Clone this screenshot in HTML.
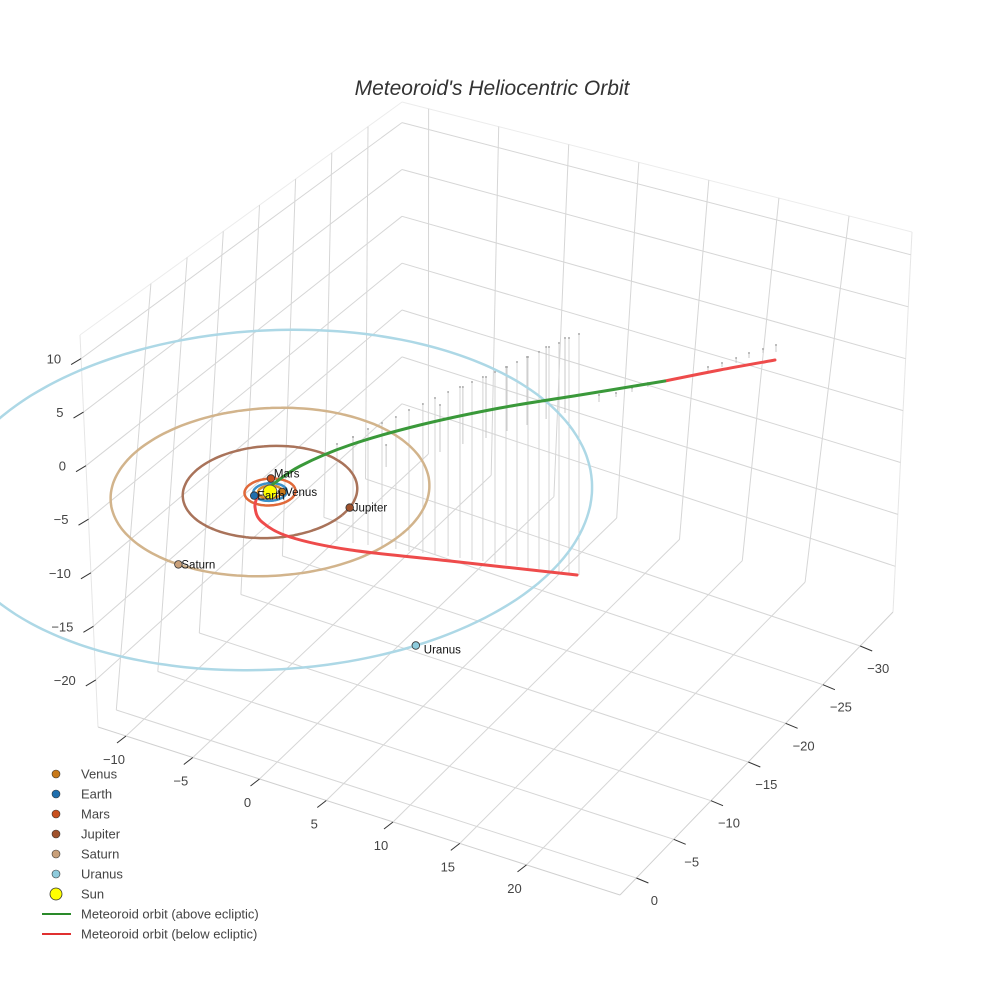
<!DOCTYPE html>
<html><head><meta charset="utf-8"><style>
html,body{margin:0;padding:0;background:#fff;}
svg{display:block;font-family:"Liberation Sans",Arial,sans-serif;}
</style></head><body>
<svg id="chart" width="984" height="984" viewBox="0 0 984 984" xmlns="http://www.w3.org/2000/svg">
<rect x="0" y="0" width="984" height="984" fill="#fff"/>
<text x="492" y="95" text-anchor="middle" font-size="21" font-style="italic" fill="#333">Meteoroid's Heliocentric Orbit</text>
<g id="grid"></g>
<g id="ticks"></g>
<g id="data"></g>
<g id="legend"></g>
</svg>
<script>
// ---- axis tick data ----
const xTicks = [-10, -5, 0, 5, 10, 15, 20];
const yTicks = [0, -5, -10, -15, -20, -25, -30];
const zTicks = [10, 5, 0, -5, -10, -15, -20];
// ---- planets ----
const planetNames = ["Venus", "Earth", "Mars", "Jupiter", "Saturn", "Uranus"];
const planetRadii = [0.72, 1.0, 1.52, 5.2, 9.5, 19.2];
const planetAngles = [-30, 126, 238, -10, 91, 29];
const orbitCenterX = [0, 0, 0, 0, 0, 0.5];
const orbitCenterY = [0, 0, 0, 0, 0, 0.75];
const planetColors = ["#c8791a", "#1f6fae", "#c8501e", "#a0522d", "#c9a07a", "#8ecbdc"];
const orbitColors = ["#d98c2b", "#3b8fc8", "#e0693a", "#a9735a", "#d2b48c", "#add8e6"];
// ---- meteoroid (x, y, z in AU) ----
const aboveX = [-0.34, 0.42, 2.31, 5.44, 9.27, 13.36, 17.64];
const aboveY = [-0.71, -2.57, -5.09, -7.91, -10.75, -13.22, -15.93];
const aboveZ = [0, 0.8, 1.8, 3.0, 4.2, 5.4, 6.6];
const tailX = [17.64, 20.37, 23.1];
const tailY = [-15.93, -17.74, -19.56];
const tailZ = [6.6, 7.5, 8.3];
const belowX = [-0.43, -0.02, 1.04, 3.13, 6.68, 12.19, 19.29];
const belowY = [0.64, 1.57, 2.39, 2.5, 1.37, -1.12, -4.14];
const belowZ = [0, -0.3, -0.7, -1.2, -1.8, -2.4, -3.0];
// ---- long vertical stems (x position, top z, bottom z) ----
const stemX = [4.82, 5.97, 7.05, 8.06, 9.06, 10.0, 11.0, 11.87, 12.81, 13.67, 14.53, 15.32, 16.19, 16.98, 17.77, 18.56, 19.35, 20.07, 20.79, 21.51, 22.23];
const stemTopZ = [6.92, 8.13, 9.4, 10.45, 11.49, 12.6, 13.64, 14.62, 15.64, 16.51, 17.39, 18.24, 19.12, 19.97, 20.82, 21.67, 22.52, 23.33, 24.05, 24.86, 25.58];
const stemBotZ = [-2.78, -2.47, -2.2, -1.95, -1.71, -1.5, -1.26, -1.08, -0.76, -0.59, -0.41, -0.16, 0.02, 0.17, 0.42, 0.57, 0.82, 0.93, 1.15, 1.26, 1.48];
// ---- short projection stems ----
const shortX = [5.97, 8.35, 12.23, 13.88, 15.54, 17.05, 18.49, 19.86, 21.22, 23.67, 24.89, 26.04, 27.19, 31.51, 32.52, 33.53, 34.46, 35.47, 36.4];
const shortTopZ = [8.13, 8.37, 14.08, 16.61, 18.34, 20.0, 21.64, 23.24, 24.74, 20.11, 20.85, 21.86, 22.86, 26.36, 27.21, 28.15, 29.06, 29.91, 30.72];
const shortBotZ = [4.13, 6.17, 9.38, 10.91, 12.24, 13.6, 14.84, 16.04, 17.24, 19.41, 20.45, 21.46, 22.46, 25.86, 26.81, 27.65, 28.56, 29.51, 30.02];

const NS = "http://www.w3.org/2000/svg";
const XR_TOP = [-11.9, 24.5], XR_BOT = [-12.1, 27.0];
const YR_TOP = [9.8, -34.7], YR_BOT = [2.2, -34.4];
const ZMAX = 12.2, ZMIN = -24.4;
const Lt=[80,335],Ft=[578,465],Rt=[912,232],Bt=[402,102];
const Lb=[98,727],Fb=[620,895],Rb=[893,612],Bb=[402,445];
function bil(a,b,c,d,u,v){
  const p=[a[0]+(b[0]-a[0])*u, a[1]+(b[1]-a[1])*u];
  const q=[d[0]+(c[0]-d[0])*u, d[1]+(c[1]-d[1])*u];
  return [p[0]+(q[0]-p[0])*v, p[1]+(q[1]-p[1])*v];
}
function P(x,y,z){
  const w=(ZMAX-z)/(ZMAX-ZMIN);
  const ut=(x-XR_TOP[0])/(XR_TOP[1]-XR_TOP[0]), vt=(YR_TOP[0]-y)/(YR_TOP[0]-YR_TOP[1]);
  const ub=(x-XR_BOT[0])/(XR_BOT[1]-XR_BOT[0]), vb=(YR_BOT[0]-y)/(YR_BOT[0]-YR_BOT[1]);
  const t=bil(Lt,Ft,Rt,Bt,ut,vt), b=bil(Lb,Fb,Rb,Bb,ub,vb);
  return [t[0]+(b[0]-t[0])*w, t[1]+(b[1]-t[1])*w];
}
function edgeZ(a,b,z){ const w=(ZMAX-z)/(ZMAX-ZMIN); return [a[0]+(b[0]-a[0])*w, a[1]+(b[1]-a[1])*w]; }
function D(x,y,z){ return [270 + 13.9*x - 9.4*y, 492 + 4.4*x + 7.7*y - 10*z]; }

function mk(tag, attrs, parent){
  const e=document.createElementNS(NS,tag);
  for(const k in attrs) e.setAttribute(k, attrs[k]);
  parent.appendChild(e); return e;
}
const grid=document.getElementById('grid');
function gl(a,b,name,col){
  const l=mk('line',{x1:a[0].toFixed(1),y1:a[1].toFixed(1),x2:b[0].toFixed(1),y2:b[1].toFixed(1),stroke:col||'#d6d6d6','stroke-width':1},grid);
  
  
}
gl(Lt,Bt,'box-edge','#ececec');
gl(Bt,Rt,'box-edge','#ececec');
gl(Lt,Lb,'box-edge','#e6e6e6');
gl(Rt,Rb,'box-edge','#e6e6e6');
gl(Lb,Fb,'box-edge','#d0d0d0');
gl(Fb,Rb,'box-edge','#d0d0d0');
yTicks.forEach(y=>gl(P(XR_TOP[0],y,ZMAX),P(XR_BOT[0],y,ZMIN),'left-wall-gridline'));
zTicks.forEach(z=>{
  gl(edgeZ(Lt,Lb,z),edgeZ(Bt,Bb,z),'left-wall-gridline');
  gl(edgeZ(Bt,Bb,z),edgeZ(Rt,Rb,z),'right-wall-gridline');
});
xTicks.forEach(x=>gl(P(x,YR_TOP[1],ZMAX),P(x,YR_BOT[1],ZMIN),'right-wall-gridline'));
xTicks.forEach(x=>gl(P(x,YR_BOT[0],ZMIN),P(x,YR_BOT[1],ZMIN),'floor-gridline'));
yTicks.forEach(y=>gl(P(XR_BOT[0],y,ZMIN),P(XR_BOT[1],y,ZMIN),'floor-gridline'));

const tk=document.getElementById('ticks');
function tick(p,dx,dy,label,lx,ly,anchor,name){
  const l=mk('line',{x1:p[0].toFixed(1),y1:p[1].toFixed(1),x2:(p[0]+dx).toFixed(1),y2:(p[1]+dy).toFixed(1),stroke:'#333','stroke-width':1},tk);
  
  
  const t=mk('text',{x:(p[0]+lx).toFixed(1),y:(p[1]+ly).toFixed(1),'font-size':13,fill:'#444','text-anchor':anchor},tk);
  
  
  t.textContent=String(label).replace('-','\u2212');
}
xTicks.forEach(x=>tick(P(x,YR_BOT[0],ZMIN),-9,7,x,-12,28,'middle','x-axis'));
yTicks.forEach(y=>tick(P(XR_BOT[1],y,ZMIN),12,5,y,18,27,'middle','y-axis'));
zTicks.forEach(z=>tick(edgeZ(Lt,Lb,z),-10,6,z,-20,5,'end','z-axis'));

const dg=document.getElementById('data');
function pathFrom(pts){
  let d='M'+pts[0][0].toFixed(1)+','+pts[0][1].toFixed(1);
  for(let i=0;i<pts.length-1;i++){
    const p0=pts[i-1]||pts[i], p1=pts[i], p2=pts[i+1], p3=pts[i+2]||p2;
    const c1=[p1[0]+(p2[0]-p0[0])/6, p1[1]+(p2[1]-p0[1])/6];
    const c2=[p2[0]-(p3[0]-p1[0])/6, p2[1]-(p3[1]-p1[1])/6];
    d+='C'+c1[0].toFixed(1)+','+c1[1].toFixed(1)+' '+c2[0].toFixed(1)+','+c2[1].toFixed(1)+' '+p2[0].toFixed(1)+','+p2[1].toFixed(1);
  }
  return d;
}
function stems(X,T,B,col,w,name){
  for(let i=0;i<X.length;i++){
    const a=D(X[i],0,T[i]), b=D(X[i],0,B[i]);
    const l=mk('line',{x1:a[0].toFixed(1),y1:a[1].toFixed(1),x2:b[0].toFixed(1),y2:b[1].toFixed(1),stroke:col,'stroke-width':w},dg);
    
    
    const c=mk('circle',{cx:a[0].toFixed(1),cy:a[1].toFixed(1),r:1,fill:'#aaa'},dg);
    
    
  }
}
stems(stemX,stemTopZ,stemBotZ,'#d4d4d4',1,'long-stem');
stems(shortX,shortTopZ,shortBotZ,'#c4c4c4',0.9,'short-stem');
for(let i=planetRadii.length-1;i>=0;i--){
  const r=planetRadii[i], pts=[];
  for(let a=0;a<=360;a+=4){ const t=a*Math.PI/180; pts.push(D(orbitCenterX[i]+r*Math.cos(t), orbitCenterY[i]+r*Math.sin(t), 0)); }
  const p=mk('path',{d:pathFrom(pts),fill:'none',stroke:orbitColors[i],'stroke-width':2.5},dg);
  
  
}
function series(X,Y,Z,col,name){
  const pts=X.map((x,i)=>D(x,Y[i],Z[i]));
  const p=mk('path',{d:pathFrom(pts),fill:'none',stroke:col,'stroke-width':3,'stroke-linecap':'round'},dg);
  
  
}
series(belowX,belowY,belowZ,'#ee4b4b','meteoroid-below-ecliptic');
series(tailX,tailY,tailZ,'#ee4b4b','meteoroid-below-ecliptic-tail');
series(aboveX,aboveY,aboveZ,'#3a993a','meteoroid-above-ecliptic');
const sp=D(0,0,0);
const sun=mk('circle',{cx:sp[0],cy:sp[1],r:7,fill:'#ffff00',stroke:'#555','stroke-width':1},dg);


planetNames.forEach((n,i)=>{
  const t=planetAngles[i]*Math.PI/180, r=planetRadii[i];
  const p=D(orbitCenterX[i]+r*Math.cos(t), orbitCenterY[i]+r*Math.sin(t), 0);
  const c=mk('circle',{cx:p[0].toFixed(1),cy:p[1].toFixed(1),r:3.8,fill:planetColors[i],stroke:'#333','stroke-width':0.8},dg);
  
  
  const tx=mk('text',{x:(p[0]+(n==='Uranus'?8:3)).toFixed(1),y:(p[1]+(n==='Mars'?-1:(n==='Uranus'?8:4))).toFixed(1),'font-size':11.5,fill:'#111'},dg);
  
  
  tx.textContent=n;
});
const lg=document.getElementById('legend');
const legendLabels=["Venus","Earth","Mars","Jupiter","Saturn","Uranus","Sun","Meteoroid orbit (above ecliptic)","Meteoroid orbit (below ecliptic)"];
legendLabels.forEach((lab,i)=>{
  const y=774+i*20;
  if(i<6){
    const c=mk('circle',{cx:56,cy:y,r:4,fill:planetColors[i],stroke:'#333','stroke-width':0.6},lg);
    
    
  } else if(i===6){
    const c=mk('circle',{cx:56,cy:y,r:6,fill:'#ffff00',stroke:'#333','stroke-width':0.8},lg);
    
    
  } else {
    const l=mk('line',{x1:42,y1:y,x2:71,y2:y,stroke:i===7?'#2a8a2a':'#e03030','stroke-width':2},lg);
    
    
  }
  const t=mk('text',{x:81,y:y+4.5,'font-size':13,fill:'#444'},lg);
  
  
  t.textContent=lab;
});
</script>
</body></html>
